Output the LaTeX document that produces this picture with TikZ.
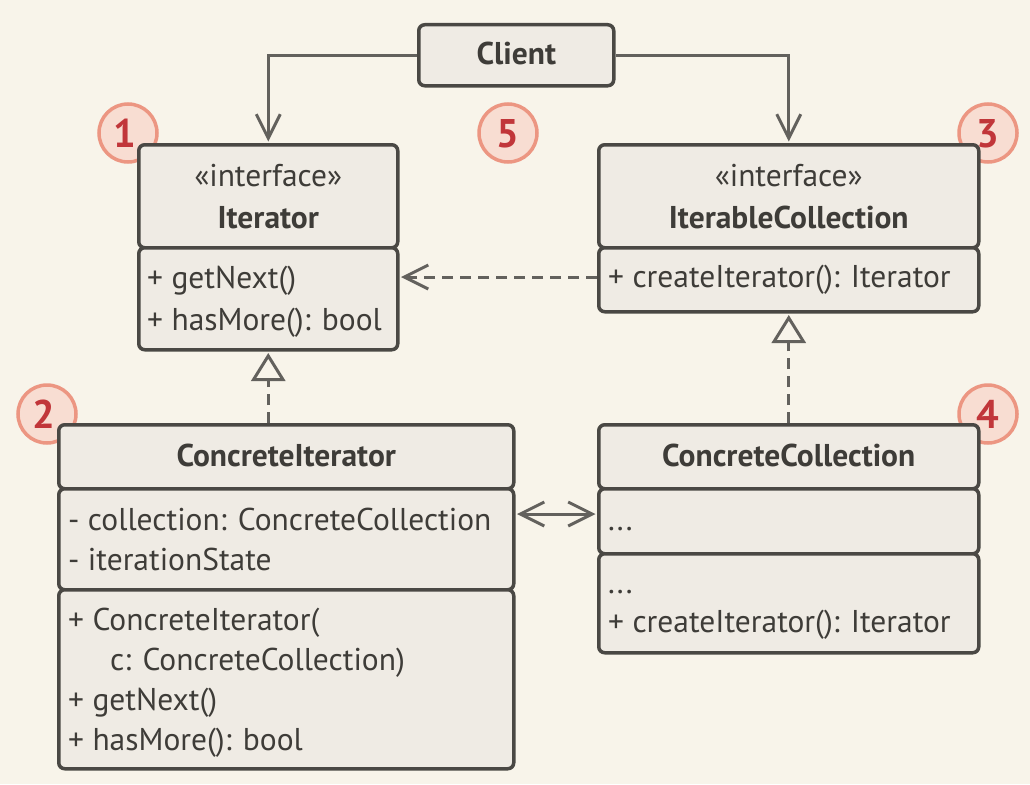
\documentclass[tikz,border=0pt]{standalone}
\usepackage{fontspec}
\setmainfont{PT Sans}
\usetikzlibrary{arrows.meta}
\definecolor{bg}{HTML}{F8F4EA}
\definecolor{boxfill}{HTML}{EFEBE4}
\definecolor{bd}{HTML}{4A4844}
\definecolor{ln}{HTML}{63615D}
\definecolor{txtc}{HTML}{3E3C38}
\definecolor{badgefill}{HTML}{F8DDD2}
\definecolor{badgebd}{HTML}{EC9682}
\definecolor{badgenum}{HTML}{C1363A}
\begin{document}
\begin{tikzpicture}[x=1pt,y=-1pt,
  comp/.style={draw=bd, fill=boxfill, line width=3.5pt, rounded corners=6pt, rectangle, inner sep=0pt, anchor=north west},
  txt/.style={text=txtc, inner sep=0pt, font=\fontsize{31.5pt}{34pt}\selectfont},
  ttl/.style={txt, font=\fontsize{31.5pt}{34pt}\selectfont\bfseries},
  conn/.style={draw=ln, line width=3pt},
  dconn/.style={conn, dash pattern=on 11pt off 7pt},
  vtip/.style={-{Straight Barb[length=24pt,width=24pt,line width=3pt]}},
  tritip/.style={-{Triangle[open,length=28pt,width=34pt,line width=3pt,fill=bg]}},
  badge/.style={circle, draw=badgebd, fill=badgefill, line width=3.5pt, minimum size=58pt, inner sep=0pt},
  bnum/.style={text=badgenum, inner sep=0pt, font=\fontsize{40pt}{42pt}\selectfont\bfseries}
]
\fill[bg] (0,0) rectangle (1030,784);
\useasboundingbox (0,0) rectangle (1030,784);

% badges
\node[badge] (b1) at (128,133) {};
\node[badge] (b5) at (508,133) {};
\node[badge] (b2) at (47,414) {};
\node[badge] (b3) at (988,133) {};
\node[badge] (b4) at (988,414) {};

% Client
\node[comp, minimum width=195pt, minimum height=61pt] (client) at (417,23) {};
% Iterator
\node[comp, minimum width=259pt, minimum height=103pt] (ittop) at (137,143) {};
\node[comp, minimum width=259pt, minimum height=102pt] (itbot) at (137,246) {};
% IterableCollection
\node[comp, minimum width=380pt, minimum height=103pt] (ictop) at (597,143) {};
\node[comp, minimum width=380pt, minimum height=64pt] (icbot) at (597,246) {};
% ConcreteIterator
\node[comp, minimum width=455pt, minimum height=64pt] (citop) at (57,423) {};
\node[comp, minimum width=455pt, minimum height=101pt] (cimid) at (57,487) {};
\node[comp, minimum width=455pt, minimum height=179pt] (cibot) at (57,588) {};
% ConcreteCollection
\node[comp, minimum width=380pt, minimum height=64pt] (cctop) at (597,423) {};
\node[comp, minimum width=380pt, minimum height=65pt] (ccmid) at (597,487) {};
\node[comp, minimum width=380pt, minimum height=99pt] (ccbot) at (597,552) {};

% badge numbers
\node[bnum, anchor=base] (n1) at (125,147) {1};
\node[bnum, anchor=base] (n5) at (508,147) {5};
\node[bnum, anchor=base] (n2) at (44,428) {2};
\node[bnum, anchor=base] (n3) at (988,147) {3};
\node[bnum, anchor=base] (n4) at (988,428) {4};

% texts
\node[ttl, anchor=base] (tclient) at (client.center |- 0,65) {Client};
\node[txt, anchor=base] (tit0) at (ittop.center |- 0,186) {«interface»};
\node[ttl, anchor=base] (tit1) at (ittop.center |- 0,228) {Iterator};
\node[txt, anchor=base west] (tit2) at (147,288) {+ getNext()};
\node[txt, anchor=base west] (tit3) at (147,330) {+ hasMore(): bool};

\node[txt, anchor=base] (tic0) at (ictop.center |- 0,186) {«interface»};
\node[ttl, anchor=base] (tic1) at (ictop.center |- 0,228) {IterableCollection};
\node[txt, anchor=base west] (tic2) at (608,287) {+ createIterator(): Iterator};

\node[ttl, anchor=base] (tci0) at (citop.center |- 0,466) {ConcreteIterator};
\node[txt, anchor=base west] (tci1) at (68,530) {- collection: ConcreteCollection};
\node[txt, anchor=base west] (tci2) at (68,570) {- iterationState};
\node[txt, anchor=base west] (tci3) at (68,630) {+ ConcreteIterator(};
\node[txt, anchor=base west] (tci4) at (110,670) {c: ConcreteCollection)};
\node[txt, anchor=base west] (tci5) at (68,710) {+ getNext()};
\node[txt, anchor=base west] (tci6) at (68,750) {+ hasMore(): bool};

\node[ttl, anchor=base] (tcc0) at (cctop.center |- 0,466) {ConcreteCollection};
\node[txt, anchor=base west] (tcc1) at (608,530) {...};
\node[txt, anchor=base west] (tcc2) at (608,593) {...};
\node[txt, anchor=base west] (tcc3) at (608,632) {+ createIterator(): Iterator};

% connectors
\draw[conn, vtip, shorten >=1.5pt] (client.west) -| (ittop.north);
\draw[conn, vtip, shorten >=1.5pt] (client.east) -| (ictop.north);
\draw[dconn, vtip, shorten >=1.5pt] (icbot.west |- 0,277) -- (itbot.east |- 0,277);
\draw[dconn, tritip, shorten >=1.5pt] (itbot.south |- citop.north) -- (itbot.south);
\draw[dconn, tritip, shorten >=1.5pt] (icbot.south |- cctop.north) -- (icbot.south);
\draw[conn, {Straight Barb[length=24pt,width=24pt,line width=3pt]}-{Straight Barb[length=24pt,width=24pt,line width=3pt]}, shorten >=1.5pt, shorten <=1.5pt] (cimid.east |- 0,514) -- (ccmid.west |- 0,514);
\end{tikzpicture}
\end{document}
